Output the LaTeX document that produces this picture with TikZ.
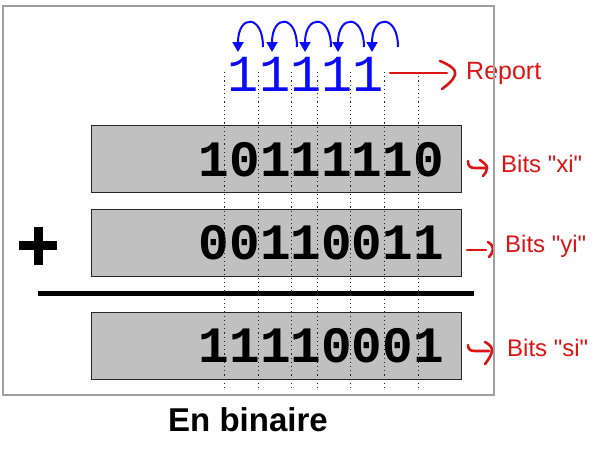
\documentclass[tikz,border=0pt]{standalone}
\usepackage{fontspec}
\setmainfont{Liberation Sans}
\newfontfamily\digitfont{Liberation Mono}
\usetikzlibrary{arrows.meta}
\definecolor{boxgray}{RGB}{192,192,192}
\definecolor{framegray}{RGB}{160,160,160}
\definecolor{redlab}{RGB}{220,20,20}
\definecolor{carryblue}{RGB}{10,10,255}
\tikzset{
  numbox/.style={draw=black!85, line width=1pt, fill=boxgray, minimum width=370pt, minimum height=67pt, inner sep=0pt},
  bigdigits/.style={inner sep=0pt, anchor=base east, font=\digitfont\bfseries\fontsize{51}{55}\selectfont},
  carrydigits/.style={inner sep=0pt, anchor=base, text=carryblue, font=\digitfont\fontsize{52}{56}\selectfont},
  carryarc/.style={draw=carryblue, line width=2pt, -{Triangle[length=10pt,width=11pt]}},
  redmark/.style={draw=redlab, line width=2.6pt, line cap=round, line join=round},
  lab/.style={inner sep=0pt, anchor=west, text=redlab, font=\fontsize{24}{28}\selectfont},
  guide/.style={dash pattern=on 1.2pt off 3pt, line width=1pt, black!85}
}
\begin{document}
\begin{tikzpicture}[x=1pt,y=-1pt]
\useasboundingbox (0,0) rectangle (610,448);
% boxes
\node[numbox] (bx) at (276,158.5) {};
\node[numbox] (by) at (276,242.5) {};
\node[numbox] (bs) at (276,345.5) {};
\node[bigdigits] (dx) at (444,176) {10111110};
\node[bigdigits] (dy) at (444,259.5) {00110011};
\node[bigdigits] (ds) at (444,362) {11110001};
% plus sign and sum bar
\draw[line width=9pt] (19,245) -- (57,245);
\draw[line width=9pt] (38,226.5) -- (38,264.5);
\draw[line width=5pt] (38,293) -- (474,293);
% carries
\node[carrydigits] (carry) at (306,91) {11111};
\foreach \s/\e [count=\i] in {263/238,297/272,331/305,364/338,398/372}{
  \coordinate (cs\i) at (\s,47);
  \coordinate (ce\i) at (\e,52);
  \draw[carryarc] (cs\i) .. controls (\s,14) and (\e,14) .. (ce\i);
}
% guide lines
\foreach \x in {224,258,291,317,350,384,418}
  \draw[guide] (\x,72) -- (\x,391);
% report arrow
\coordinate (rs) at (390,73);
\node[lab, font=\fontsize{25}{29}\selectfont] (report) at (466,73) {Report};
\draw[redmark] (rs) -- (447,73);
\draw[redmark] (440,61) .. controls (450,65) and (457,70) .. (455,75) .. controls (453,81) and (446,86) .. (442,89);
% bit labels
\node[lab] (lx) at (501,164) {Bits \textquotedbl xi\textquotedbl};
\node[lab] (ly) at (505,246) {Bits \textquotedbl yi\textquotedbl};
\node[lab] (ls) at (507,348) {Bits \textquotedbl si\textquotedbl};
\coordinate (hx) at (468,161);
\draw[redmark] (hx) .. controls (468,166) and (470,168) .. (475,168) -- (487,168);
\draw[redmark] (480,160) .. controls (484,163) and (487,165) .. (487,168) .. controls (487,171) and (485,174) .. (483,176);
\coordinate (hy) at (467,250);
\draw[redmark] (hy) -- (486,250);
\draw[redmark] (488,242) .. controls (491,244) and (493,246) .. (493,249) .. controls (493,252) and (491,255) .. (489,257);
\coordinate (hs) at (468,345);
\draw[redmark] (hs) .. controls (468,349) and (470,351) .. (475,351) -- (489,351);
\draw[redmark] (485,342) .. controls (489,344) and (492,347) .. (492,350) .. controls (492,354) and (489,359) .. (485,364);
% frame
\draw[framegray, line width=1.5pt] (3,6) rectangle (494,395);
% caption
\node[inner sep=0pt, anchor=base, font=\bfseries\fontsize{33}{38}\selectfont] (cap) at (248,431) {En binaire};
\end{tikzpicture}
\end{document}
